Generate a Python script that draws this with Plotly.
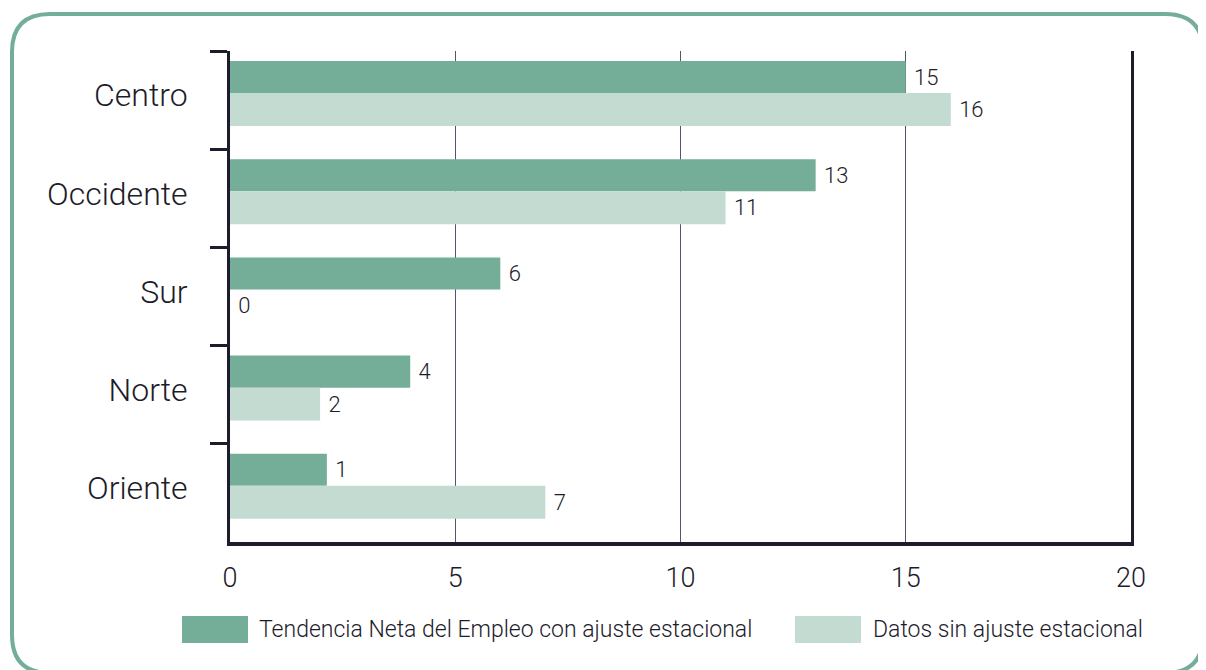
import plotly.graph_objects as go

# ---- data ----
categories = ["Centro", "Occidente", "Sur", "Norte", "Oriente"]
series_names = ["Tendencia Neta del Empleo con ajuste estacional", "Datos sin ajuste estacional"]
adjusted_values = [15, 13, 6, 4, 2.15]
adjusted_labels = ["15", "13", "6", "4", "1"]
raw_values = [16, 11, 0, 2, 7]
raw_labels = ["16", "11", "0", "2", "7"]
x_ticks = [0, 5, 10, 15, 20]

DARK = "#74ad98"
LIGHT = "#c4dbd2"
INK = "#1c1c2a"
FONT = "Roboto"

# the page body adds an 8px margin; build the figure 8px smaller and shifted
OFF = 8
W, H = 1206 - OFF, 670 - OFF
ML, MT = 230 - OFF, 51 - OFF
MR = W - (1131 - OFF)
MB = H - (542 - OFF)
PW, PH = W - ML - MR, H - MT - MB


def px(x, y):
    """reference-screen pixel -> paper coordinates"""
    return ((x - OFF) - ML) / PW, (H - MB - (y - OFF)) / PH


fig = go.Figure()
fig.add_trace(go.Bar(
    y=categories, x=adjusted_values, orientation="h", name=series_names[0],
    marker=dict(color=DARK, line=dict(width=0)),
    text=adjusted_labels, texttemplate="&nbsp;%{text}", textposition="outside", cliponaxis=False,
    textfont=dict(family=FONT, size=22, color=INK, weight=300),
    offset=-0.398, width=0.326, showlegend=False,
))
fig.add_trace(go.Bar(
    y=categories, x=raw_values, orientation="h", name=series_names[1],
    marker=dict(color=LIGHT, line=dict(width=0)),
    text=raw_labels, texttemplate="&nbsp;%{text}", textposition="outside", cliponaxis=False,
    textfont=dict(family=FONT, size=22, color=INK, weight=300),
    offset=-0.072, width=0.336, showlegend=False,
))

# rounded frame (bottom edge runs just past the visible area)
x0, y0, x1, y1, r = 12, 14, 1203, 673, 38


def P(x, y):
    a, b = px(x, y)
    return f"{a:.5f},{b:.5f}"


path = (f"M{P(x0 + r, y0)} L{P(x1 - r, y0)} Q{P(x1, y0)} {P(x1, y0 + r)} "
        f"L{P(x1, y1 - r)} Q{P(x1, y1)} {P(x1 - r, y1)} "
        f"L{P(x0 + r, y1)} Q{P(x0, y1)} {P(x0, y1 - r)} "
        f"L{P(x0, y0 + r)} Q{P(x0, y0)} {P(x0 + r, y0)} Z")
shapes = [dict(type="path", xref="paper", yref="paper", path=path,
               line=dict(color=DARK, width=4), fillcolor="rgba(0,0,0,0)", layer="below")]

# manual legend (large swatches)
legend_items = [(182, 248, DARK, 257, series_names[0]), (795, 861, LIGHT, 871, series_names[1])]
annotations = []
for sx0, sx1, col, tx, name in legend_items:
    a0, b0 = px(sx0, 616)
    a1, b1 = px(sx1, 643)
    shapes.append(dict(type="rect", xref="paper", yref="paper", x0=a0, x1=a1, y0=b1, y1=b0,
                       fillcolor=col, line=dict(width=0)))
    ta, tb = px(tx, 629.5)
    annotations.append(dict(xref="paper", yref="paper", x=ta, y=tb, text=name, showarrow=False,
                            xanchor="left", yanchor="middle",
                            font=dict(family=FONT, size=23, color=INK, weight=300)))

fig.update_layout(
    width=W, height=H,
    margin=dict(l=ML, r=MR, t=MT, b=MB, pad=0),
    paper_bgcolor="white", plot_bgcolor="white",
    barmode="overlay",
    shapes=shapes, annotations=annotations,
    showlegend=False,
    xaxis=dict(range=[0, 20], tickvals=x_ticks, ticktext=[str(v) for v in x_ticks],
               showgrid=True, gridcolor="#55556a", gridwidth=1, zeroline=False,
               showline=True, linecolor=INK, linewidth=4, mirror=False,
               ticks="", ticklabelstandoff=9,
               tickfont=dict(family=FONT, size=27, color=INK, weight=300), fixedrange=True),
    yaxis=dict(type="category", categoryorder="array", categoryarray=categories,
               autorange="reversed", showgrid=False, zeroline=False,
               showline=True, linecolor=INK, linewidth=3, mirror=True,
               ticks="outside", tickson="boundaries", ticklen=17, tickwidth=3, tickcolor=INK,
               ticklabelstandoff=33, ticklabelshift=5,
               tickfont=dict(family=FONT, size=32, color=INK, weight=300), fixedrange=True),
)

fig.write_html("out.html")
